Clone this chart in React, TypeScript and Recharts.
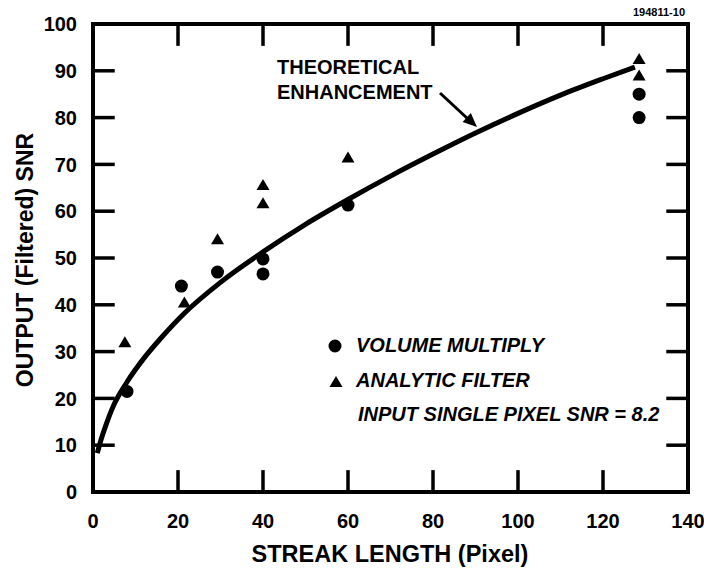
import React from 'react';
import { ComposedChart, Line, Scatter, XAxis, YAxis, ReferenceLine } from 'recharts';

// Theoretical enhancement curve
const curveX = [1, 2, 3, 5, 8, 12, 16, 21.5, 30, 40, 50, 60, 70, 80, 90, 100, 110, 120, 127.5];
const curveY = [8.3, 11.5, 14.2, 18.8, 23.5, 28.6, 32.9, 38.2, 44.8, 51.3, 57.2, 62.5, 67.5, 72.2, 76.7, 80.9, 84.8, 88.3, 90.8];

// Measured points
const volumeX = [8, 20.8, 29.3, 40, 40, 60, 128.5, 128.5];
const volumeY = [21.5, 44, 47, 49.8, 46.6, 61.3, 85, 80];
const analyticX = [7.5, 21.5, 29.3, 40, 40, 60, 128.5, 128.5];
const analyticY = [32, 40.5, 54, 65.6, 61.7, 71.5, 92.5, 89];

const xTicks = [0, 20, 40, 60, 80, 100, 120, 140];
const yTicks = [0, 10, 20, 30, 40, 50, 60, 70, 80, 90, 100];

const X_MAX = 140;
const Y_MAX = 100;
// inward tick length, in data units (~20px)
const TICK_X = 4.7;
const TICK_Y = 4.3;

const FONT = '"Liberation Sans", Arial, sans-serif';

const curve = curveX.map((x, i) => ({ x, y: curveY[i] }));
const volume = volumeX.map((x, i) => ({ x, y: volumeY[i] }));
const analytic = analyticX.map((x, i) => ({ x, y: analyticY[i] }));

const tickFont = { fontFamily: FONT, fontWeight: 'bold', fontSize: 20, fill: '#000' };

const Dot = (p: any) => <circle cx={p.cx} cy={p.cy} r={6.5} fill="#000" />;
const Tri = (p: any) => (
  <polygon points={`${p.cx},${p.cy - 6} ${p.cx + 6.5},${p.cy + 5} ${p.cx - 6.5},${p.cy + 5}`} fill="#000" />
);

// thick black segment for the frame and ticks
const thickLine = (w: number) => (p: any) => (
  <line x1={p.x1} y1={p.y1} x2={p.x2} y2={p.y2} stroke="#000" strokeWidth={w} style={{ strokeWidth: w }} strokeLinecap="square" />
);
const frameShape = thickLine(4);
const tickShape = thickLine(3.5);

const innerX = xTicks.filter((t) => t > 0 && t < X_MAX);
const innerY = yTicks.filter((t) => t > 0 && t < Y_MAX);

export default function App() {
  return (
    <div style={{ position: 'absolute', left: 0, top: 0, width: 704, height: 571, background: '#fff' }}>
      <ComposedChart width={704} height={571} margin={{ top: 24, right: 16, bottom: 0, left: 0 }}>
        <XAxis
          dataKey="x"
          type="number"
          domain={[0, X_MAX]}
          ticks={xTicks}
          height={79}
          tickSize={0}
          tickMargin={22}
          tickLine={false}
          axisLine={false}
          tick={tickFont}
          interval={0}
        />
        <YAxis
          dataKey="y"
          type="number"
          domain={[0, Y_MAX]}
          ticks={yTicks}
          width={93}
          tickSize={0}
          tickMargin={16}
          tickLine={false}
          axisLine={false}
          tick={tickFont}
          interval={0}
        />

        {/* frame */}
        <ReferenceLine x={0} stroke="#000" strokeWidth={4} shape={frameShape} />
        <ReferenceLine x={X_MAX} stroke="#000" strokeWidth={4} shape={frameShape} />
        <ReferenceLine y={0} stroke="#000" strokeWidth={4} shape={frameShape} />
        <ReferenceLine y={Y_MAX} stroke="#000" strokeWidth={4} shape={frameShape} />

        {/* inward ticks on all four sides */}
        {innerX.map((t) => (
          <ReferenceLine key={`b${t}`} segment={[{ x: t, y: 0 }, { x: t, y: TICK_Y }]} stroke="#000" strokeWidth={3.5} shape={tickShape} />
        ))}
        {innerX.map((t) => (
          <ReferenceLine key={`t${t}`} segment={[{ x: t, y: Y_MAX }, { x: t, y: Y_MAX - TICK_Y }]} stroke="#000" strokeWidth={3.5} shape={tickShape} />
        ))}
        {innerY.map((t) => (
          <ReferenceLine key={`l${t}`} segment={[{ x: 0, y: t }, { x: TICK_X, y: t }]} stroke="#000" strokeWidth={3.5} shape={tickShape} />
        ))}
        {innerY.map((t) => (
          <ReferenceLine key={`r${t}`} segment={[{ x: X_MAX, y: t }, { x: X_MAX - TICK_X, y: t }]} stroke="#000" strokeWidth={3.5} shape={tickShape} />
        ))}

        <Line
          data={curve}
          dataKey="y"
          type="monotone"
          stroke="#000"
          strokeWidth={5}
          dot={false}
          activeDot={false}
          isAnimationActive={false}
        />
        <Scatter data={volume} dataKey="y" shape={<Dot />} isAnimationActive={false} />
        <Scatter data={analytic} dataKey="y" shape={<Tri />} isAnimationActive={false} />
      </ComposedChart>

      <svg width={704} height={571} style={{ position: 'absolute', left: 0, top: 0, pointerEvents: 'none' }}>
        <g fontFamily={FONT} fontWeight="bold" fill="#000">
          <text x={685} y={16} textAnchor="end" fontSize={11}>194811-10</text>
          <text x={277} y={74} fontSize={20}>THEORETICAL</text>
          <text x={277} y={99} fontSize={20}>ENHANCEMENT</text>
          <text x={390} y={562} textAnchor="middle" fontSize={23.5}>STREAK LENGTH (Pixel)</text>
          <text transform="translate(33,260) rotate(-90)" textAnchor="middle" fontSize={23}>
            OUTPUT (Filtered) SNR
          </text>
          <circle cx={335} cy={346} r={6.5} />
          <polygon points="336,376 342.5,387 329.5,387" />
          <text x={356} y={352} fontSize={20} fontStyle="italic">VOLUME MULTIPLY</text>
          <text x={356} y={387} fontSize={20} fontStyle="italic">ANALYTIC FILTER</text>
          <text x={358} y={421} fontSize={20} fontStyle="italic">INPUT SINGLE PIXEL SNR = 8.2</text>
        </g>
        <line x1={440} y1={93} x2={468} y2={119} stroke="#000" strokeWidth={3} />
        <polygon points="477,127 462.6,121.9 470.8,113.1" fill="#000" />
      </svg>
    </div>
  );
}
